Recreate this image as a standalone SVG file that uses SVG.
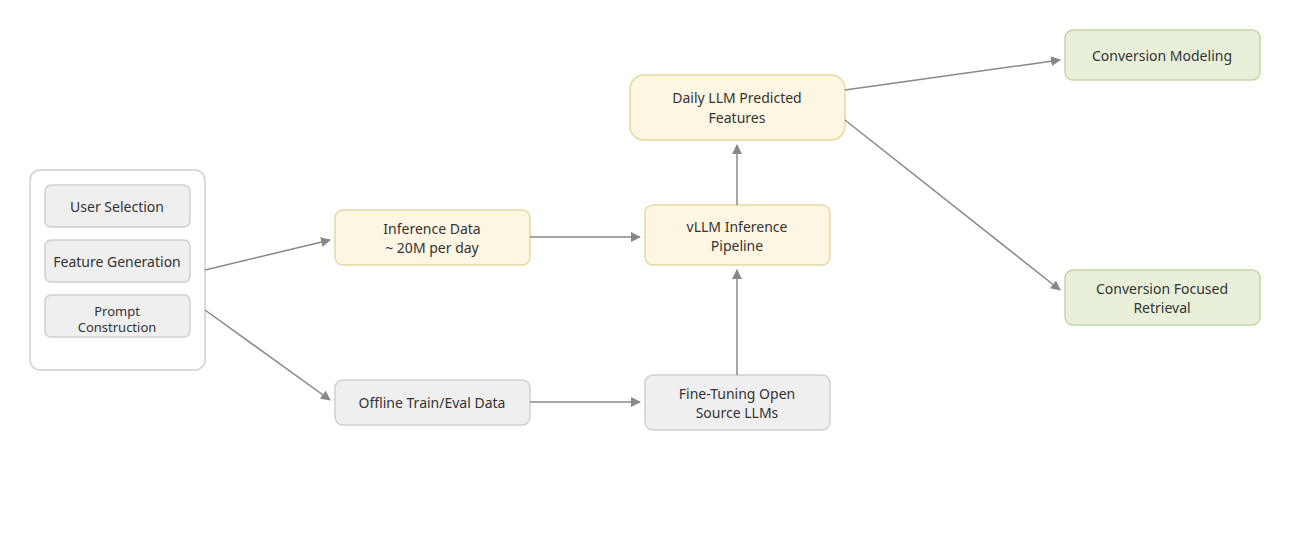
<svg xmlns="http://www.w3.org/2000/svg" width="1300" height="550" viewBox="0 0 1300 550">
<style>
text{font-family:"Noto Sans","Open Sans",sans-serif;font-size:14px;fill:#333;text-anchor:middle}
.g{fill:#efefef;stroke:#cfcfcf;stroke-width:1.5}
.y{fill:#fdf6e3;stroke:#e6d9a2;stroke-width:1.5}
.gr{fill:#e8f0da;stroke:#c3d7a5;stroke-width:1.5}
.c{fill:none;stroke:#888;stroke-width:1.5;marker-end:url(#a)}
</style>
<defs><marker id="a" markerWidth="10" markerHeight="10" refX="9" refY="5" orient="auto" markerUnits="userSpaceOnUse" viewBox="0 0 10 10"><path d="M0,0L10,5L0,10z" fill="#888"/></marker></defs>
<rect width="1300" height="550" fill="#fff"/>
<g id="container"><rect x="30" y="170" width="175" height="200" rx="10" fill="#fff" stroke="#d0d0d0" stroke-width="1.5"/></g>
<g id="user-selection"><rect class="g" x="45" y="185" width="145" height="42" rx="6"/><text x="117" y="212">User Selection</text></g>
<g id="feature-generation"><rect class="g" x="45" y="240" width="145" height="42" rx="6"/><text x="117" y="267">Feature Generation</text></g>
<g id="prompt-construction"><rect class="g" x="45" y="295" width="145" height="42" rx="6"/><text x="117" y="316" style="font-size:13px">Prompt</text><text x="117" y="332" style="font-size:13px">Construction</text></g>
<g id="inference-data"><rect class="y" x="335" y="210" width="195" height="55" rx="8"/><text x="432" y="234">Inference Data</text><text x="432" y="253">~ 20M per day</text></g>
<g id="offline-data"><rect class="g" x="335" y="380" width="195" height="45" rx="8"/><text x="432" y="408">Offline Train/Eval Data</text></g>
<g id="vllm"><rect class="y" x="645" y="205" width="185" height="60" rx="8"/><text x="737" y="232">vLLM Inference</text><text x="737" y="251">Pipeline</text></g>
<g id="finetune"><rect class="g" x="645" y="375" width="185" height="55" rx="8"/><text x="737" y="399">Fine-Tuning Open</text><text x="737" y="418">Source LLMs</text></g>
<g id="daily"><rect class="y" x="630" y="75" width="215" height="65" rx="14"/><text x="737" y="103">Daily LLM Predicted</text><text x="737" y="123">Features</text></g>
<g id="conv-model"><rect class="gr" x="1065" y="30" width="195" height="50" rx="8"/><text x="1162" y="61">Conversion Modeling</text></g>
<g id="conv-retrieval"><rect class="gr" x="1065" y="270" width="195" height="55" rx="8"/><text x="1162" y="294">Conversion Focused</text><text x="1162" y="313">Retrieval</text></g>
<g id="connectors">
<path class="c" d="M205,270L330,240"/>
<path class="c" d="M205,310L330,400"/>
<path class="c" d="M530,237L640,237"/>
<path class="c" d="M530,402L640,402"/>
<path class="c" d="M737,375L737,270"/>
<path class="c" d="M737,205L737,145"/>
<path class="c" d="M845,90L1060,60"/>
<path class="c" d="M845,120L1060,290"/>
</g>
</svg>
